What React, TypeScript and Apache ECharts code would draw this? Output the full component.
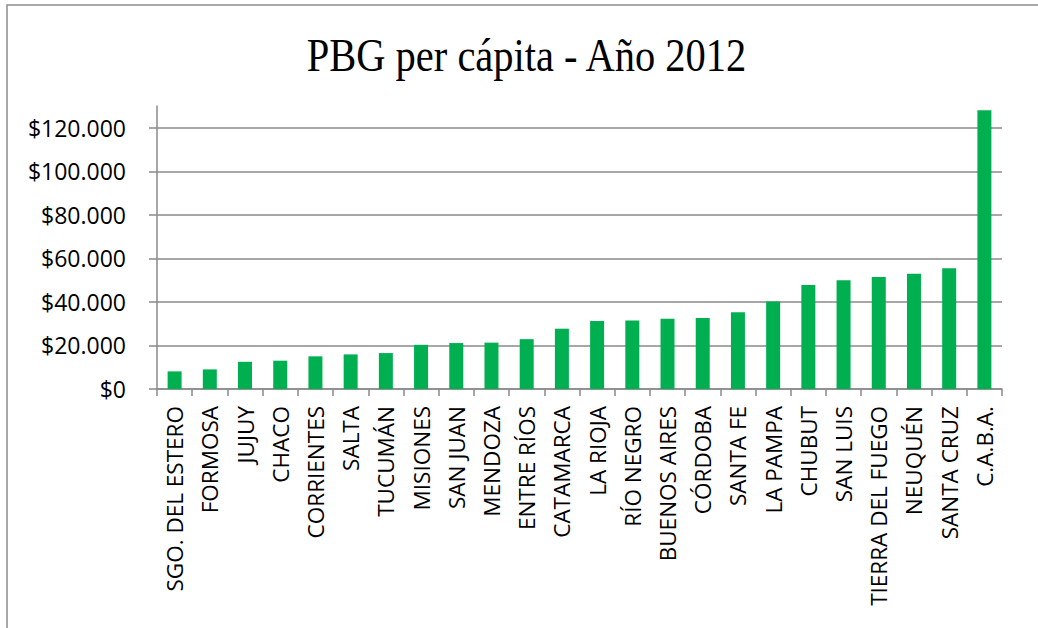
import React, { useEffect, useRef } from "react";
import * as echarts from "echarts";

const categories = [
  "SGO. DEL ESTERO", "FORMOSA", "JUJUY", "CHACO", "CORRIENTES", "SALTA", "TUCUMÁN",
  "MISIONES", "SAN JUAN", "MENDOZA", "ENTRE RÍOS", "CATAMARCA", "LA RIOJA", "RÍO NEGRO",
  "BUENOS AIRES", "CÓRDOBA", "SANTA FE", "LA PAMPA", "CHUBUT", "SAN LUIS",
  "TIERRA DEL FUEGO", "NEUQUÉN", "SANTA CRUZ", "C.A.B.A.",
];
const pbgValues = [
  8100, 9000, 12500, 13000, 15000, 15900, 16500,
  20300, 21100, 21300, 22900, 27700, 31200, 31500,
  32300, 32600, 35200, 40200, 47800, 50000,
  51400, 52900, 55500, 128000,
];
const yMin = 0;
const yMax = 130000;
const yInterval = 20000;
const titleText = "PBG per cápita - Año 2012";

const fmt = (v: number) => {
  const s = Math.round(v).toString().replace(/\B(?=(\d{3})+(?!\d))/g, ".");
  return "$" + s;
};

export default function App() {
  const ref = useRef<HTMLDivElement>(null);
  useEffect(() => {
    if (!ref.current) return;
    const chart = echarts.init(ref.current, null, { renderer: "svg" });
    const gridColor = "#8a8a8a";
    chart.setOption({
      animation: false,
      backgroundColor: "#ffffff",
      graphic: [
        {
          type: "rect",
          shape: { x: 7, y: 5, width: 1200, height: 800 },
          style: { fill: "none", stroke: "#8c8c8c", lineWidth: 1.5 },
          silent: true,
        },
        {
          type: "text",
          x: 526.5,
          y: 55,
          scaleX: 0.88,
          style: {
            text: titleText,
            fontFamily: "Liberation Serif",
            fontSize: 46,
            fill: "#000000",
            align: "center",
            verticalAlign: "middle",
          },
          silent: true,
        },
      ],
      grid: { left: 157, right: 36, top: 106, bottom: 239 },
      xAxis: {
        type: "category",
        data: categories,
        axisLine: { show: true, lineStyle: { color: gridColor, width: 1.5 } },
        axisTick: { show: true, alignWithLabel: false, length: 7, lineStyle: { color: gridColor, width: 1.5 } },
        axisLabel: {
          rotate: 90,
          interval: 0,
          margin: 17,
          fontFamily: "Open Sans",
          fontSize: 22.5,
          color: "#000000",
        },
      },
      yAxis: {
        type: "value",
        min: yMin,
        max: yMax,
        interval: yInterval,
        axisLine: { show: true, lineStyle: { color: gridColor, width: 1.5 } },
        axisTick: { show: true, length: 8, lineStyle: { color: gridColor, width: 1.5 } },
        splitLine: {
          show: true,
          lineStyle: {
            color: [gridColor, gridColor, gridColor, gridColor, gridColor, gridColor, gridColor, "rgba(0,0,0,0)"],
            width: 1.5,
          },
        },
        axisLabel: {
          margin: 31,
          fontFamily: "Open Sans",
          fontSize: 23,
          color: "#000000",
          showMaxLabel: false,
          formatter: (v: number) => (v > 120000 ? "" : fmt(v)),
        },
      },
      series: [
        {
          type: "bar",
          data: pbgValues,
          barWidth: 14,
          itemStyle: { color: "#00b050" },
        },
      ],
    });
    return () => chart.dispose();
  }, []);
  return (
    <div
      ref={ref}
      style={{ position: "absolute", left: 0, top: 0, width: 1038, height: 628 }}
    />
  );
}
